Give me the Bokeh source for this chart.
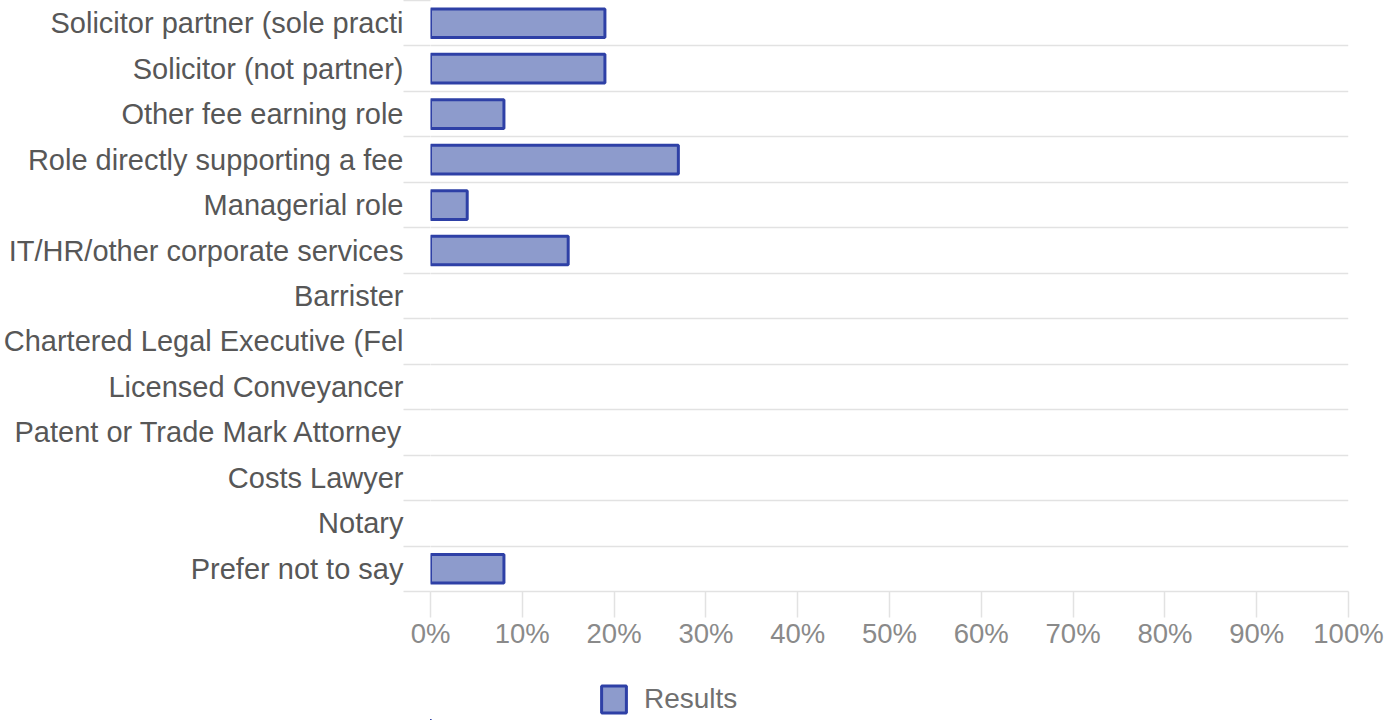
from bokeh.plotting import figure
from bokeh.layouts import column
from bokeh.models import (Range1d, FixedTicker, ColumnDataSource, Legend, LegendItem)
from bokeh.embed import file_html
from bokeh.resources import INLINE

# ---- data ----
categories = [
    "Solicitor partner (sole practi",
    "Solicitor (not partner)",
    "Other fee earning role",
    "Role directly supporting a fee",
    "Managerial role",
    "IT/HR/other corporate services",
    "Barrister",
    "Chartered Legal Executive (Fel",
    "Licensed Conveyancer",
    "Patent or Trade Mark Attorney",
    "Costs Lawyer",
    "Notary",
    "Prefer not to say",
]
values = [19, 19, 8, 27, 4, 15, 0, 0, 0, 0, 0, 0, 8]
x_ticks = [0, 10, 20, 30, 40, 50, 60, 70, 80, 90, 100]
x_tick_labels = ["0%", "10%", "20%", "30%", "40%", "50%", "60%", "70%", "80%", "90%", "100%"]
series_name = "Results"

FONT = "Liberation Sans"
GRID = "#e2e2e2"
BAR_FILL = "#8d9bcc"
BAR_LINE = "#2e40a6"
n = len(categories)
ypos = [n - 1 - i for i in range(n)]

p = figure(width=1386, height=660, output_backend="svg", toolbar_location=None,
           x_range=Range1d(0, 100), y_range=Range1d(-0.5, n - 0.5),
           min_border_left=10, min_border_right=38,
           min_border_top=0, min_border_bottom=69)
p.outline_line_color = None
p.background_fill_color = "white"
p.border_fill_color = "white"

# grid
p.xgrid.ticker = FixedTicker(ticks=[0])
p.xgrid.grid_line_color = "#d8d8d8"
p.xgrid.grid_line_width = 1.5
p.ygrid.ticker = FixedTicker(ticks=[k + 0.5 for k in range(n)])
p.ygrid.grid_line_color = GRID
p.ygrid.grid_line_width = 1.5

# y axis: category labels + gridline stubs (minor ticks at row boundaries)
ya = p.yaxis[0]
ya.ticker = FixedTicker(ticks=ypos, minor_ticks=[k - 0.5 for k in range(n + 1)])
ya.major_label_overrides = {y: c for y, c in zip(ypos, categories)}
ya.axis_line_color = None
ya.major_tick_line_color = None
ya.major_tick_in = 0
ya.major_tick_out = 0
ya.minor_tick_in = 0
ya.minor_tick_out = 27
ya.minor_tick_line_color = GRID
ya.minor_tick_line_width = 1.5
ya.major_label_standoff = 0
ya.major_label_text_font = FONT
ya.major_label_text_font_size = "29px"
ya.major_label_text_color = "#575757"

# x axis
xa = p.xaxis[0]
xa.ticker = FixedTicker(ticks=x_ticks)
xa.major_label_overrides = {t: lab for t, lab in zip(x_ticks, x_tick_labels)}
xa.axis_line_color = GRID
xa.axis_line_width = 1.5
xa.major_tick_in = 0
xa.major_tick_out = 26
xa.major_tick_line_color = GRID
xa.major_tick_line_width = 1.5
xa.minor_tick_line_color = None
xa.major_label_standoff = 0
xa.major_label_text_font = FONT
xa.major_label_text_font_size = "27.5px"
xa.major_label_text_color = "#8a8a8a"

# bars (zero values are not drawn)
bar_y = [y for y, v in zip(ypos, values) if v > 0]
bar_v = [v for v in values if v > 0]
src = ColumnDataSource(dict(y=bar_y, right=bar_v))
r = p.hbar(y="y", left=0, right="right", height=0.63, source=src,
           fill_color=BAR_FILL, line_color=BAR_LINE, line_width=3)

# legend strip underneath (same series, kept out of view, used for the key)
pl = figure(width=1386, height=60, output_backend="svg", toolbar_location=None,
            x_range=Range1d(1000, 1100), y_range=Range1d(100, 101),
            min_border_left=0, min_border_right=0, min_border_top=0, min_border_bottom=0)
pl.axis.visible = False
pl.grid.visible = False
pl.outline_line_color = None
pl.border_fill_color = "white"
lr = pl.hbar(y="y", left=0, right="right", height=0.63, source=src,
             fill_color=BAR_FILL, line_color=BAR_LINE, line_width=3)
legend = Legend(items=[LegendItem(label=series_name, renderers=[lr])],
                location=(168, 4), orientation="horizontal",
                glyph_width=31, glyph_height=34, padding=0, margin=0, spacing=0,
                label_standoff=15, label_text_font=FONT, label_text_font_size="28px",
                label_text_color="#707070", border_line_color=None,
                background_fill_alpha=0)
pl.add_layout(legend)

layout = column(p, pl, spacing=0)
open("out.html", "w").write(file_html(layout, INLINE))
